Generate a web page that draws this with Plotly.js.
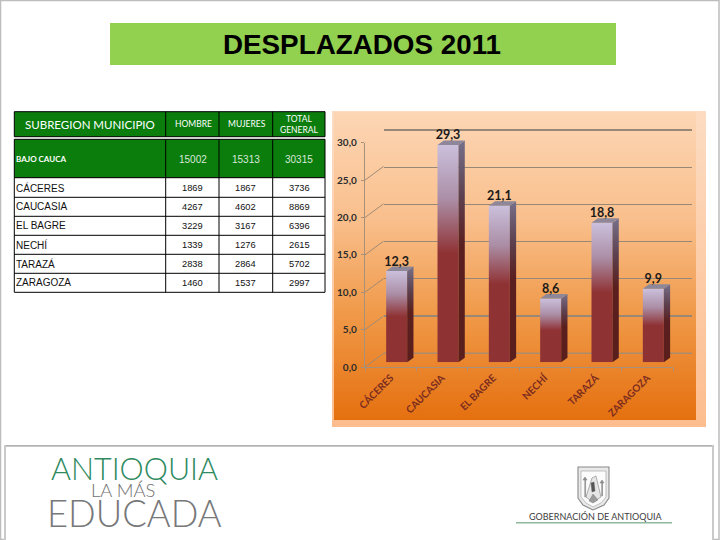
<!DOCTYPE html>
<html><head><meta charset="utf-8">
<script src="https://cdn.plot.ly/plotly-3.0.1.min.js"></script>
<style>html,body{margin:0;padding:0;background:#fff}#c{width:720px;height:540px}</style>
</head><body><div id="c"></div>
<script>
// ---- data ----
const municipios = ["CÁCERES","CAUCASIA","EL BAGRE","NECHÍ","TARAZÁ","ZARAGOZA"];
const porcentaje = [12.3,29.3,21.1,8.6,18.8,9.9];
const hombres = [1869,4267,3229,1339,2838,1460];
const mujeres = [1867,4602,3167,1276,2864,1537];
const totales = [3736,8869,6396,2615,5702,2997];
const encabezado = ["SUBREGION MUNICIPIO","HOMBRE","MUJERES","TOTAL<br>GENERAL"];
const subregion = ["BAJO CAUCA","15002","15313","30315"];
const yTicks = [0,5,10,15,20,25,30];

// ---- helpers (pixel layout of the slide) ----
const W=720,H=540;
const px=x=>x/W, py=y=>1-y/H;
const dom=(a,b)=>[a/W,b/W];
const domY=(top,bottom)=>[1-bottom/H,1-top/H];
const rect=(x0,y0,x1,y1,fill,line,lw)=>({type:'rect',xref:'paper',yref:'paper',x0:px(x0),x1:px(x1),y0:py(y1),y1:py(y0),
  fillcolor:fill,line:{color:line||'rgba(0,0,0,0)',width:lw||0},layer:'below'});
const seg=(x0,y0,x1,y1,c,w)=>({type:'line',xref:'paper',yref:'paper',x0:px(x0),x1:px(x1),y0:py(y0),y1:py(y1),line:{color:c,width:w},layer:'below'});
const poly=(pts,fill,line,lw)=>({type:'path',xref:'paper',yref:'paper',
  path:pts.map((p,i)=>(i?'L':'M')+px(p[0]).toFixed(5)+' '+py(p[1]).toFixed(5)).join(' ')+' Z',
  fillcolor:fill,line:{color:line,width:lw},layer:'below'});
const note=(text,x,y,size,color,family,weight,anchor)=>({text:String(text),x:px(x),y:py(y),xref:'paper',yref:'paper',showarrow:false,
  xanchor:anchor||'center',yanchor:'middle',borderpad:0,font:{size,color,family,weight:weight||400}});

// 3-D geometry in axis units
const catPx=51.33, unitPx=7.42;
const barW=21/catPx, depthX=6.3/catPx, depthY=4.5/unitPx;
const centres=municipios.map((_,i)=>i+0.5);

const traces=[];
// back wall (grid only) on x/y ; front axes on x2/y2 ; bars on x3/y3
traces.push({type:'scatter',x:[0,6],y:[0,0],xaxis:'x',yaxis:'y',mode:'lines',line:{color:'#a98b6e',width:1.4},hoverinfo:'skip',showlegend:false});
// wall / floor connectors on the front axes
const wx=18.5/catPx, wy=13.6/7.48;
let cx=[],cy=[];
yTicks.forEach(v=>{cx.push(0,wx,null);cy.push(v,v+wy,null);});
cx.push(6,6+wx);cy.push(0,wy);
traces.push({type:'scatter',x:cx,y:cy,xaxis:'x2',yaxis:'y2',mode:'lines',cliponaxis:false,line:{color:'#a08a74',width:1},hoverinfo:'skip',showlegend:false});
// bars
traces.push({type:'bar',x:centres,y:porcentaje,width:barW,xaxis:'x3',yaxis:'y3',marker:{color:'#8f3233',line:{width:0}},cliponaxis:false,showlegend:false});
// side + top faces
porcentaje.forEach((v,i)=>{
  const r=centres[i]+barW/2;
  traces.push({type:'scatter',xaxis:'x3',yaxis:'y3',mode:'lines',line:{width:0},cliponaxis:false,showlegend:false,
    x:[r,r,r+depthX,r+depthX,r],y:[0,v,v+depthY,depthY,0],fill:'toself',
    fillgradient:{type:'vertical',start:0,stop:v+depthY,colorscale:[[0,'#5a1f1c'],[0.52,'#5a1f1e'],[0.75,'#5d4150'],[1,'#77708a']]}});
  const l=centres[i]-barW/2;
  traces.push({type:'scatter',xaxis:'x3',yaxis:'y3',mode:'lines',line:{width:0},cliponaxis:false,showlegend:false,
    x:[l,r,r+depthX,l+depthX,l],y:[v,v,v+depthY,v+depthY,v],fill:'toself',fillcolor:'#8d8799'});
});
// value labels
traces.push({type:'scatter',xaxis:'x3',yaxis:'y3',mode:'text',cliponaxis:false,showlegend:false,
  x:centres,y:porcentaje.map(v=>v+depthY-0.3),text:porcentaje.map(v=>v.toFixed(1).replace('.',',')),textposition:'top center',
  textfont:{family:'Lato',size:12.5,color:'#1a1a1a',weight:700}});

// ---- slide furniture ----
const shapes=[
  rect(0.5,0.5,719,539.5,'#ffffff','#bdbdbd',1.5),
  rect(110,23,616,65,'#92d050'),
  rect(332,111,706,427,'#fcd5b4'),
  rect(334,112,696,420,'#f0a060'),
  // footer frame
  rect(5,446,713,545,'#ffffff','#c9c9c9',2),
  seg(6,445.5,712,445.5,'#b0b0b0',1),
  // gobernación mark
  seg(516,522.8,672,522.8,'#8fb89c',1.4),
  poly([[578,467],[609,467],[609,498],[604,505],[593,510],[583,505],[578,498]],'#e9e9e9','#8a8a8a',1.1),
  poly([[581,471],[606,471],[606,497],[601,503],[593,507],[586,503],[581,497]],'#fbfbfb','#a8a8a8',0.7),
  poly([[586,497],[592,478],[596,476],[601,497],[593,502]],'#e6e6e6','#8f8f8f',0.7),
  poly([[591,483],[594,482],[595,491],[592,492]],'#555555','#555555',0.4),
  poly([[589,501],[593,494],[598,500],[593,503]],'#9a9a9a','#777777',0.4),
  poly([[583,480],[585,477],[587,480],[585.6,480],[585.6,497],[584.8,497],[584.8,480]],'#8a8a8a','#8a8a8a',0.6),
  poly([[600,483],[602,480],[604,483],[602.5,483],[602.5,496],[601.7,496],[601.7,483]],'#8a8a8a','#8a8a8a',0.6)
];
const panelIndex=3, outerIndex=2;

// ---- table, built from the arrays ----
const colX=[14.3,165.7,219,272.7,325];
const colC=[14.8,192.5,245.8,299.3];
const rowY=[177.7,197.3,216.3,235.3,254.3,273.3,292.3];
const GREEN='#0a7d0d';
shapes.push(rect(colX[0],111.7,colX[4],136.7,GREEN,'#000',1));
shapes.push(rect(colX[0],139.3,colX[4],rowY[0],GREEN,'#000',1));
shapes.push(rect(colX[0],rowY[0],colX[4],rowY[6],'#ffffff','#000',1));
[1,2,3].forEach(i=>{
  shapes.push(seg(colX[i],111.7,colX[i],136.7,'#000',1));
  shapes.push(seg(colX[i],139.3,colX[i],rowY[6],'#000',1));
});
rowY.slice(1,6).forEach(y=>shapes.push(seg(colX[0],y,colX[4],y,'#000',1)));

const annotations=[
  note('ANTIOQUIA',134.5,467.5,30.5,'#2f8a5f','Lato',300),
  note('LA MÁS',122.5,490,18.4,'#6f6f6f','Lato',300),
  note('EDUCADA',134,513,36.4,'#77787a','Lato',300),
  note('GOBERNACIÓN DE ANTIOQUIA',596,516.5,9,'#3d3d3d','Lato',400)
];
annotations.push(note(encabezado[0],90,124,11.5,'#fff','Lato'));
annotations.push(note(encabezado[1],193,124,8.5,'#fff','Lato'));
annotations.push(note(encabezado[2],246.5,124,8.5,'#fff','Lato'));
annotations.push(note(encabezado[3],299,124,8.5,'#fff','Lato'));
annotations.push(note(subregion[0],15,159,8,'#fff','Lato',700,'left'));
subregion.slice(1).forEach((t,i)=>annotations.push(note(t,colC[i+1],159,10,'#d8e8d8','Liberation Sans')));
municipios.forEach((m,r)=>{
  const y=(rowY[r]+rowY[r+1])/2;
  annotations.push(note(m,colC[0],y,10,'#111','Liberation Sans',400,'left'));
  [hombres,mujeres,totales].forEach((col,c)=>annotations.push(note(col[r],colC[c+1],y,9.3,'#111','Liberation Sans')));
});

const hiddenX={showgrid:false,zeroline:false,showticklabels:false,ticks:'',fixedrange:true};
const gu=(353.3-130)/30;
const layout={
  width:W,height:H,margin:{l:0,r:0,t:0,b:0},autosize:false,separators:',.',
  paper_bgcolor:'#fff',plot_bgcolor:'rgba(0,0,0,0)',showlegend:false,
  title:{text:'DESPLAZADOS 2011',x:362/W,y:py(44),xanchor:'center',yanchor:'middle',font:{family:'Liberation Sans',size:27.8,color:'#000',weight:700}},
  // back wall
  xaxis:{...hiddenX,domain:dom(383.5,691.7),range:[0,6],anchor:'y'},
  yaxis:{domain:domY(130-gu,353.3+gu),range:[-1,31],anchor:'x',tickvals:yTicks,showticklabels:false,ticks:'',showgrid:true,gridcolor:'#9a8877',gridwidth:1.2,zeroline:false},
  // front axes
  xaxis2:{domain:dom(365,673),range:[0,6],anchor:'y2',showline:true,linecolor:'#a8917a',linewidth:1.2,showgrid:false,zeroline:false,
    tickmode:'array',tickvals:centres,ticktext:municipios,tickangle:-45,ticks:'',ticklen:0,
    tickfont:{family:'Lato',size:10,color:'#7b2c20',weight:700},
    minor:{tickvals:[0,1,2,3,4,5,6],ticks:'outside',ticklen:3,tickcolor:'#a8917a',showgrid:false}},
  yaxis2:{domain:domY(142.7,367),range:[0,30],anchor:'x2',tickvals:yTicks,tickformat:'.1f',showline:true,linecolor:'#a8917a',linewidth:1.2,
    showgrid:false,zeroline:false,ticks:'outside',ticklen:3,tickcolor:'#a8917a',ticklabelstandoff:2,tickfont:{family:'Lato',size:10,color:'#2b2b2b',weight:700}},
  // bars
  xaxis3:{...hiddenX,domain:dom(371,679),range:[0,6],anchor:'y3'},
  yaxis3:{...hiddenX,domain:domY(362.3-30*unitPx,362.3),range:[0,30],anchor:'x3'},
  shapes,annotations
};

function gradient(svg,id,stops){
  const NS='http://www.w3.org/2000/svg';
  const g=document.createElementNS(NS,'linearGradient');
  g.setAttribute('id',id);['x1','x2','y1'].forEach(k=>g.setAttribute(k,'0'));g.setAttribute('y2','1');
  stops.forEach(s=>{const e=document.createElementNS(NS,'stop');e.setAttribute('offset',s[0]);e.setAttribute('stop-color',s[1]);g.appendChild(e);});
  svg.querySelector('defs').appendChild(g);
}
Plotly.newPlot('c',traces,layout,{staticPlot:true,displayModeBar:false}).then(gd=>{
  const svg=gd.querySelector('.main-svg');
  gradient(svg,'barFade',[[0,'#cbc0dc'],[0.25,'#ab8ea6'],[0.5,'#8f3234'],[1,'#8f3233']]);
  gradient(svg,'panelFade',[[0,'#fdd6b5'],[0.35,'#f9bf8c'],[0.65,'#f09a4a'],[1,'#e5700f']]);
  gradient(svg,'outerFade',[[0,'#fcdcc2'],[1,'#fdbd8e']]);
  gd.querySelectorAll('.bars .point path').forEach(p=>p.style.setProperty('fill','url(#barFade)'));
  const paint=(i,id)=>{const el=gd.querySelector('.shapelayer path[data-index="'+i+'"]');if(el) el.style.setProperty('fill','url(#'+id+')');};
  paint(panelIndex,'panelFade');paint(outerIndex,'outerFade');
});
</script></body></html>
